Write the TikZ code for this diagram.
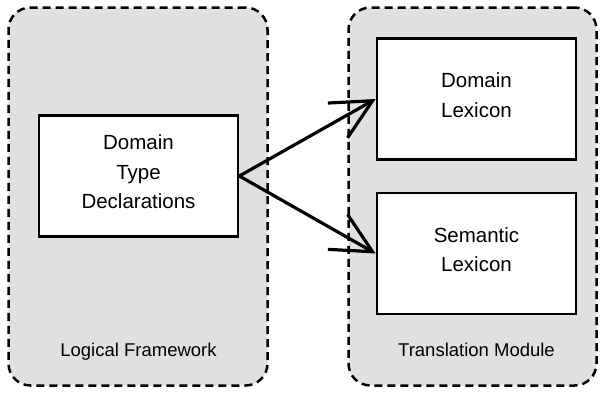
\documentclass[tikz,border=0pt]{standalone}
\usepackage{fontspec}
\setmainfont{Liberation Sans}
\usetikzlibrary{arrows.meta}
\definecolor{modulegray}{RGB}{224,224,224}

\begin{document}
\begin{tikzpicture}[x=1pt, y=-1pt,
  module/.style={draw, dash pattern=on 8pt off 5pt, line width=2.5pt, rounded corners=22pt, fill=modulegray},
  box/.style={draw, line width=2.7pt, fill=white, minimum width=199pt, minimum height=121pt, align=center, text depth=8pt, font=\fontsize{20.5}{29.5}\selectfont},
  caption/.style={anchor=base, font=\fontsize{18.5}{22}\selectfont},
  link/.style={line width=3.2pt, -{Straight Barb[length=40pt,width=40pt,line width=3.2pt]}}]
\useasboundingbox (0,0) rectangle (606,394);
% the two modules
\node[module, minimum width=259pt, minimum height=378pt] (logical) at (138,196.5) {};
\node[module, minimum width=248pt, minimum height=378pt] (translation) at (472.5,196.5) {};
\node[caption] (logicallbl) at (138.5,356) {Logical Framework};
\node[caption] (translationlbl) at (476.5,356) {Translation Module};
% boxes
\node[box] (dtd) at (138.5,176) {Domain\\Type\\Declarations};
\node[box] (domlex) at (476.5,99) {Domain\\Lexicon};
\node[box] (semlex) at (476.5,253.5) {Semantic\\Lexicon};
% arrows
\draw[link] (dtd.east) -- (domlex.west);
\draw[link] (dtd.east) -- (semlex.west);
\end{tikzpicture}
\end{document}
